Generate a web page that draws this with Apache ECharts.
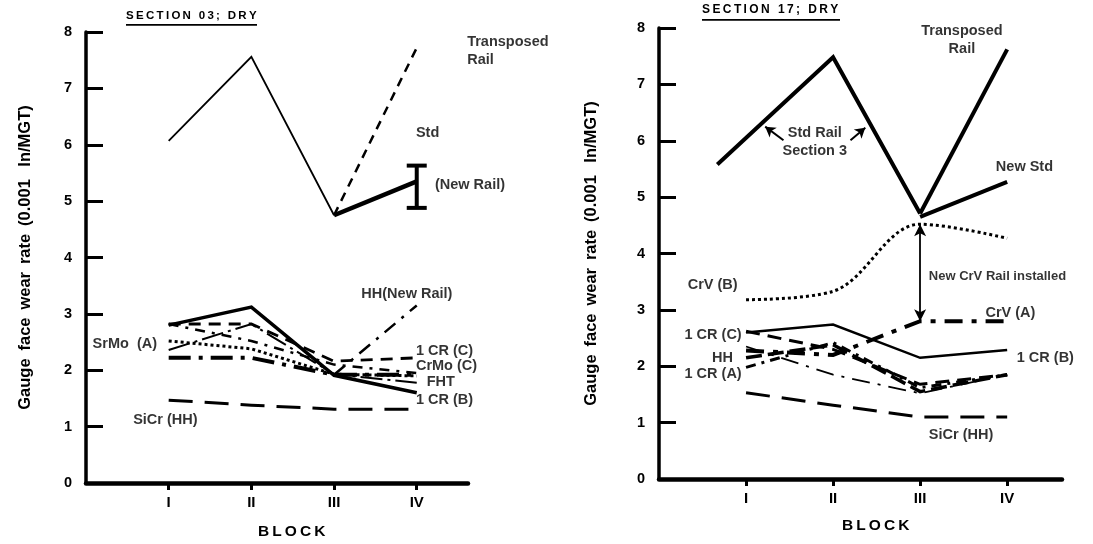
<!DOCTYPE html>
<html>
<head>
<meta charset="utf-8">
<script src="https://cdn.jsdelivr.net/npm/echarts@6/dist/echarts.min.js"></script>
<style>
  html, body { margin: 0; padding: 0; background: #fff; }
  #chart { width: 1093px; height: 544px; }
</style>
</head>
<body>
<div id="chart"></div>
<script>
// Block positions along the track and their labels
const blockPos = [1, 2, 3, 4];
const blockNames = ['I', 'II', 'III', 'IV'];
const yTicks = [0, 1, 2, 3, 4, 5, 6, 7, 8];

// ---- Section 03 (dry) gauge face wear rates, 0.001 in/MGT ----
const s03StdRail = [6.07, 7.56, 4.75];          // blocks I-III
const s03Transposed = [4.75, 7.72];             // blocks III-IV
const s03NewRail = [4.75, 5.35];                // blocks III-IV
const s03NewRailRange = [4.88, 5.63];           // spread at block IV
const s03CrB = [2.80, 3.12, 1.91, 1.60];
const s03CrC = [2.82, 2.82, 2.16, 2.22];
const s03SrMo = [2.52, 2.38, 1.93, 1.90];
const s03CrMo = [2.36, 2.82, 1.93, 1.78];
const s03FHT = [2.22, 2.22, 1.92, 1.92];
const s03Mixed = [2.82, 2.52, 2.10, 1.95];
const s03HHNew = [1.92, 3.15];                  // blocks III-IV
const s03SiCr = [1.47, 1.38, 1.31, 1.31];

// ---- Section 17 (dry) ----
const s17StdRailX = [0.67, 2, 3];
const s17StdRail = [5.58, 7.48, 4.71];
const s17Transposed = [4.71, 7.62];             // blocks III-IV
const s17NewStd = [4.65, 5.27];                 // blocks III-IV
const s17CrVB = [3.18, 3.33, 4.52, 4.27];
const s17CrVA = [2.28, 2.20, 2.80, 2.80];
const s17CrB = [2.60, 2.74, 2.15, 2.29];
const s17CrC = [2.62, 2.30, 1.68, 1.85];
const s17HH = [2.15, 2.38, 1.55, 1.85];
const s17CrA = [1.98, 2.42, 1.62, 1.85];
const s17Mixed = [2.35, 1.85, 1.52, 1.85];
const s17SiCr = [1.53, 1.31, 1.10, 1.10];
const s17CrVChange = [4.52, 2.80];              // at block III

const FONT = '"Liberation Sans", Arial, sans-serif';

function pairs(xs, ys) { return ys.map((y, i) => [xs[i], y]); }

function line(name, panel, xs, ys, width, type, extra) {
  return Object.assign({
    type: 'line', name: name,
    xAxisIndex: panel, yAxisIndex: panel,
    data: pairs(xs, ys),
    symbol: 'none', silent: true, animation: false,
    lineStyle: { color: '#000', width: width, type: type, cap: 'butt', join: 'miter' }
  }, extra || {});
}

function notes(panel, list) {
  return {
    type: 'scatter', xAxisIndex: panel, yAxisIndex: panel,
    symbolSize: 0, silent: true, animation: false, z: 10,
    data: list.map(n => ({
      value: [n[1], n[2]],
      label: { formatter: n[0], align: n[3] || 'left', fontSize: n[4] || 14.5 }
    })),
    label: {
      show: true, position: 'inside', color: '#000',
      textBorderWidth: 0, textShadowBlur: 0,
      fontFamily: FONT, fontWeight: 'bold', lineHeight: 18,
      verticalAlign: 'middle'
    }
  };
}

function xAxisFor(grid, max) {
  return {
    type: 'value', gridIndex: grid, min: 0, max: max,
    axisLine: { show: true, lineStyle: { color: '#000', width: 4.5 } },
    axisTick: { show: true, customValues: blockPos, length: 7, lineStyle: { color: '#000', width: 3 } },
    axisLabel: {
      show: true, customValues: blockPos, margin: 12,
      formatter: v => blockNames[blockPos.indexOf(v)] || '',
      color: '#000', fontFamily: FONT, fontWeight: 'bold', fontSize: 15
    },
    splitLine: { show: false }
  };
}

function yAxisFor(grid, gap) {
  return {
    type: 'value', gridIndex: grid, min: 0, max: 8, interval: 1,
    name: 'Gauge\u2009 face\u2009 wear\u2009 rate\u2009 (0.001\u2009  In/MGT)',
    nameLocation: 'middle', nameRotate: 90, nameGap: gap,
    nameTextStyle: { color: '#000', fontFamily: FONT, fontWeight: 'bold', fontSize: 16.5 },
    axisLine: { show: true, lineStyle: { color: '#000', width: 3.5 } },
    axisTick: { show: true, inside: true, length: 17, lineStyle: { color: '#000', width: 3 } },
    axisLabel: {
      margin: 14, color: '#000', fontFamily: FONT, fontWeight: 'bold', fontSize: 14.5,
      formatter: v => yTicks.includes(v) ? String(v) : ''
    },
    splitLine: { show: false }
  };
}

const thinSp = '\u2009';
function spaced(s) { return s.split('').join(thinSp); }

const chart = echarts.init(document.getElementById('chart'), null, { renderer: 'canvas' });

const option = {
  backgroundColor: '#fff',
  animation: false,
  grid: [
    { left: 86, top: 32, width: 382, height: 451 },
    { left: 659, top: 28, width: 403, height: 451 }
  ],
  xAxis: [xAxisFor(0, 4.62), xAxisFor(1, 4.63)],
  yAxis: [yAxisFor(0, 52), yAxisFor(1, 59)],
  graphic: [
    { type: 'text', left: 126, top: 10, style: { text: spaced('SECTION 03; DRY'), font: 'bold 11.5px ' + FONT, fill: '#000' } },
    { type: 'rect', left: 126, top: 24, shape: { width: 131, height: 1.8 }, style: { fill: '#000' } },
    { type: 'text', left: 702, top: 4, style: { text: spaced('SECTION 17; DRY'), font: 'bold 12px ' + FONT, fill: '#000' } },
    { type: 'rect', left: 702, top: 19, shape: { width: 138, height: 1.8 }, style: { fill: '#000' } },
    { type: 'text', left: 258, top: 524, style: { text: spaced('BLOCK'), font: 'bold 15.5px ' + FONT, fill: '#000' } },
    { type: 'text', left: 842, top: 518, style: { text: spaced('BLOCK'), font: 'bold 15.5px ' + FONT, fill: '#000' } }
  ],
  series: [
    // Section 03
    line('Std rail', 0, [1, 2, 3], s03StdRail, 1.8, 'solid'),
    line('Transposed rail', 0, [3, 4], s03Transposed, 2.5, [9, 7]),
    line('New rail', 0, [3, 4], s03NewRail, 4.5, 'solid'),
    {
      type: 'custom', xAxisIndex: 0, yAxisIndex: 0, silent: true, animation: false,
      data: [[4, s03NewRailRange[0], s03NewRailRange[1]]],
      renderItem: function (params, api) {
        const lo = api.coord([api.value(0), api.value(1)]);
        const hi = api.coord([api.value(0), api.value(2)]);
        const half = 10;
        const st = { stroke: '#000', lineWidth: 4 };
        return { type: 'group', children: [
          { type: 'line', shape: { x1: lo[0], y1: lo[1], x2: hi[0], y2: hi[1] }, style: st },
          { type: 'line', shape: { x1: lo[0] - half, y1: lo[1], x2: lo[0] + half, y2: lo[1] }, style: st },
          { type: 'line', shape: { x1: hi[0] - half, y1: hi[1], x2: hi[0] + half, y2: hi[1] }, style: st }
        ] };
      }
    },
    line('1 CR (B)', 0, blockPos, s03CrB, 3.5, 'solid'),
    line('1 CR (C)', 0, blockPos, s03CrC, 2.8, [12, 8]),
    line('SrMo (A)', 0, blockPos, s03SrMo, 3, [3, 3]),
    line('CrMo (C)', 0, blockPos, s03CrMo, 2, [22, 5, 3, 5]),
    line('FHT', 0, blockPos, s03FHT, 4, [22, 8, 4, 8]),
    line('Mixed', 0, blockPos, s03Mixed, 2.5, [10, 7, 3, 7]),
    line('HH (new rail)', 0, [3, 4], s03HHNew, 2.5, [14, 8, 3, 8]),
    line('SiCr (HH)', 0, blockPos, s03SiCr, 3, [24, 12]),
    notes(0, [
      ['Transposed\nRail', 4.61, 7.66, 'left'],
      ['Std', 3.99, 6.2, 'left'],
      ['(New Rail)', 4.22, 5.28, 'left'],
      ['HH(New Rail)', 3.33, 3.35, 'left'],
      ['SrMo  (A)', 0.08, 2.46, 'left'],
      ['1 CR (C)', 3.99, 2.34, 'left'],
      ['CrMo (C)', 3.99, 2.07, 'left'],
      ['FHT', 4.12, 1.79, 'left'],
      ['1 CR (B)', 3.99, 1.47, 'left'],
      ['SiCr (HH)', 0.57, 1.12, 'left']
    ]),
    // Section 17
    line('Std rail', 1, s17StdRailX, s17StdRail, 4, 'solid', {
      markLine: {
        silent: true, animation: false, symbol: ['none', 'arrow'], symbolSize: [9, 10],
        label: { show: false },
        lineStyle: { color: '#000', width: 2, type: 'solid' },
        data: [
          [{ coord: [1.43, 6.01] }, { coord: [1.22, 6.25] }],
          [{ coord: [2.2, 6.01] }, { coord: [2.37, 6.23] }]
        ]
      }
    }),
    line('Transposed rail', 1, [3, 4], s17Transposed, 4, 'solid'),
    line('New Std', 1, [3, 4], s17NewStd, 4, 'solid'),
    line('CrV (B)', 1, blockPos, s17CrVB, 3, [3, 3], {
      smooth: 0.35,
      markLine: {
        silent: true, animation: false, symbol: ['arrow', 'arrow'], symbolSize: [9, 12],
        label: { show: false },
        lineStyle: { color: '#000', width: 1.8, type: 'solid' },
        data: [[{ coord: [3, s17CrVChange[0]] }, { coord: [3, s17CrVChange[1]] }]]
      }
    }),
    line('CrV (A)', 1, blockPos, s17CrVA, 4, [18, 9, 5, 9]),
    line('1 CR (B)', 1, blockPos, s17CrB, 2.5, 'solid'),
    line('1 CR (C)', 1, blockPos, s17CrC, 3, [14, 8]),
    line('HH', 1, blockPos, s17HH, 3.5, [16, 6]),
    line('1 CR (A)', 1, blockPos, s17CrA, 3, [10, 6, 3, 6]),
    line('Mixed', 1, blockPos, s17Mixed, 1.8, [18, 8, 3, 8]),
    line('SiCr (HH)', 1, blockPos, s17SiCr, 3, [24, 12]),
    notes(1, [
      ['Transposed\nRail', 3.48, 7.79, 'center'],
      ['Std Rail\nSection 3', 1.79, 5.98, 'center'],
      ['New Std', 3.87, 5.53, 'left'],
      ['New CrV Rail installed', 3.1, 3.6, 'left', 13],
      ['CrV (B)', 0.33, 3.44, 'left'],
      ['CrV (A)', 3.75, 2.94, 'left'],
      ['1 CR (C)', 0.95, 2.55, 'right'],
      ['HH', 0.85, 2.15, 'right'],
      ['1 CR (A)', 0.95, 1.86, 'right'],
      ['1 CR (B)', 4.11, 2.15, 'left'],
      ['SiCr (HH)', 3.1, 0.78, 'left']
    ])
  ]
};

chart.setOption(option);
</script>
</body>
</html>
